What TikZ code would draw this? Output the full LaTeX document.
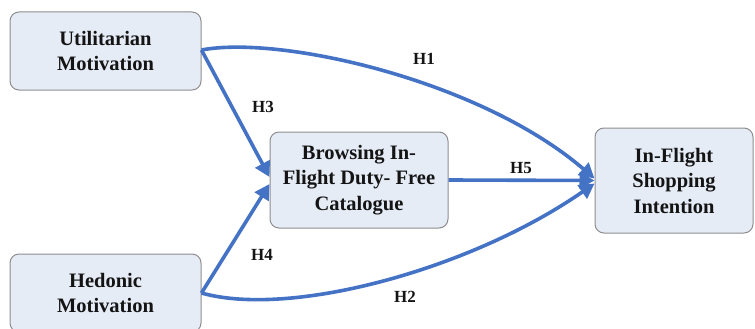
\documentclass[tikz,border=0pt]{standalone}
\usepackage{fontspec}
\setmainfont{Liberation Serif}
\usetikzlibrary{arrows.meta}
\definecolor{boxfill}{HTML}{E6ECF6}
\definecolor{boxline}{HTML}{8E8E8E}
\definecolor{arrowblue}{HTML}{4472C4}
\definecolor{txt}{HTML}{141414}
\tikzset{
  conbox/.style={draw=boxline, line width=1pt, fill=boxfill, rounded corners=9pt,
    align=center, inner sep=0pt, text=txt,
    font=\fontsize{20.5}{25.5}\selectfont\bfseries},
  link/.style={draw=arrowblue, line width=3.6pt},
  linkarrow/.style={link, -{Triangle[length=15pt,width=16pt]}},
  hlabel/.style={text=txt, font=\fontsize{17}{20}\selectfont\bfseries, inner sep=0pt}
}
\begin{document}
\begin{tikzpicture}[x=1pt,y=-1pt]
\useasboundingbox (0,0) rectangle (755,329);
\node[conbox, minimum width=191pt, minimum height=78pt] (util) at (105.5,51) {Utilitarian\\Motivation};
\node[conbox, minimum width=191pt, minimum height=78pt] (hed) at (105.5,293) {Hedonic\\Motivation};
\node[conbox, minimum width=178pt, minimum height=96pt] (brow) at (359,180) {Browsing In-\\Flight Duty- Free\\Catalogue};
\node[conbox, minimum width=158pt, minimum height=105pt] (intent) at (674,180.5) {In-Flight\\Shopping\\Intention};

\coordinate (utilout) at ([yshift=1pt]util.east);
\coordinate (browin1) at ([yshift=3pt]brow.west);
\coordinate (browin2) at ([yshift=-4pt]brow.west);
\coordinate (intin1) at ([yshift=2pt]intent.west);
\coordinate (intin2) at ([yshift=-3pt]intent.west);

\draw[linkarrow] (utilout) -- (browin1);
\draw[linkarrow] (hed.east) -- (browin2);
\draw[linkarrow] (brow.east) -- (intent.west);
\draw[linkarrow] (utilout) .. controls (280,35) and (480,80) .. (intin1);
\draw[linkarrow] (hed.east) .. controls (290,318) and (470,270) .. (intin2);

\node[hlabel] (h1) at (424,59) {H1};
\node[hlabel] (h3) at (263,107) {H3};
\node[hlabel] (h5) at (521,168) {H5};
\node[hlabel] (h4) at (262,255) {H4};
\node[hlabel] (h2) at (405,297) {H2};
\end{tikzpicture}
\end{document}
